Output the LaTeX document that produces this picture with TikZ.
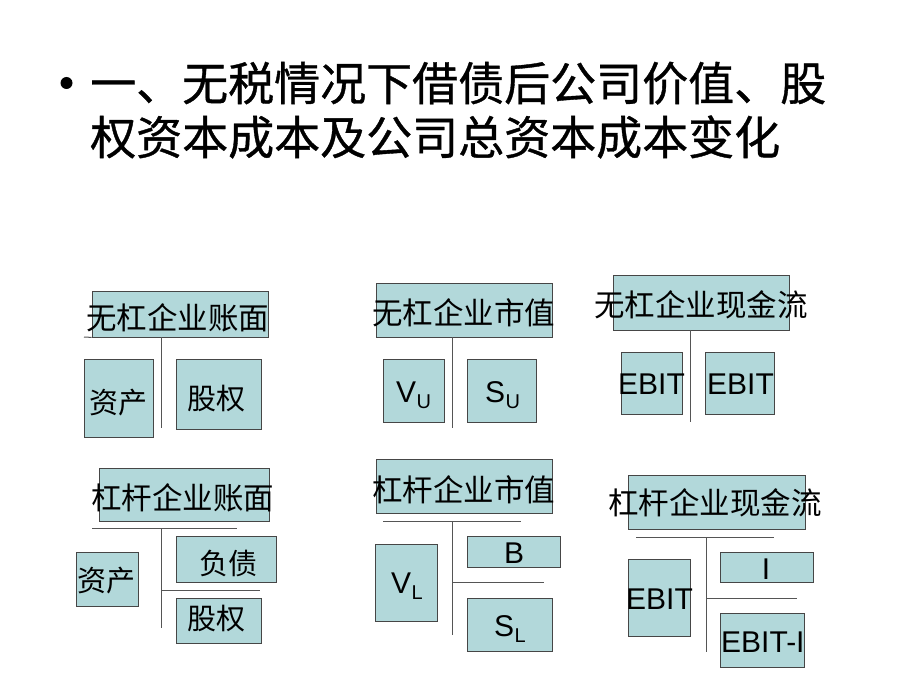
\documentclass[tikz,border=0pt]{standalone}
\usepackage{fontspec}
\setmainfont{Liberation Sans}
\newfontfamily\cjk{Noto Sans CJK SC}
\newfontfamily\cjkt[FakeBold=0.8]{Noto Sans CJK SC}
\definecolor{boxfill}{RGB}{178,216,218}
\definecolor{boxline}{RGB}{70,70,70}
\definecolor{connc}{RGB}{85,85,85}
\newcommand\bx[5]{\node[box, minimum width={#4pt-#2pt}, minimum height={#5pt-#3pt}] (#1) at ({(#2+#4)/2},{(#3+#5)/2}) {};}
\newcommand\vsub[2]{#1\kern0.5pt\raisebox{-6pt}{\fontsize{20}{20}\selectfont #2}}
\tikzset{
  box/.style={draw=boxline, fill=boxfill, line width=0.8pt, inner sep=0pt, rectangle},
  conn/.style={draw=connc, line width=1pt},
  hdr/.style={font=\cjk\fontsize{30.5}{31}\selectfont, inner sep=0pt, anchor=base},
  cj/.style={font=\cjk\fontsize{29}{30}\selectfont, inner sep=0pt, anchor=base},
  lat/.style={font=\fontsize{30}{31}\selectfont, inner sep=0pt, anchor=base west},
  ttl/.style={font=\cjkt\fontsize{46}{50}\selectfont, inner sep=0pt, anchor=base west},
}
\begin{document}
\begin{tikzpicture}[x=1pt,y=-1pt]
\path[fill=white] (0,0) rectangle (920,690);
% title
\fill (66.5,83) circle (6);
\node[ttl] (t1) at (90,100.5) {一、无税情况下借债后公司价值、股};
\node[ttl] (t2) at (90,154.5) {权资本成本及公司总资本成本变化};

% ---------- group 1 ----------
\bx{h1}{92}{291}{268}{337}
\coordinate (g1l) at (84,337);
\coordinate (g1v) at (161,337);
\coordinate (g1e) at (161,428);
\draw[conn] (g1l) -- (h1.south west);
\draw[conn] (g1v) -- (g1e);
\bx{a1}{84}{359}{153}{437}
\bx{e1}{176}{359}{261}{429}
\node[hdr] (h1t) at (177.5,329.6) {无杠企业账面};
\node[cj] (a1t) at (118.5,413) {资产};
\node[cj] (e1t) at (216.5,409) {股权};

% ---------- group 2 ----------
\bx{h2}{376}{283}{552}{337}
\coordinate (g2v) at (452,337);
\coordinate (g2e) at (452,428);
\draw[conn] (g2v) -- (g2e);
\bx{vu}{383}{359}{444}{422}
\bx{su}{467}{359}{536}{422}
\node[hdr] (h2t) at (463.5,324.6) {无杠企业市值};
\node[lat] (vut) at (396,402) {\vsub{V}{U}};
\node[lat] (sut) at (485,402) {\vsub{S}{U}};

% ---------- group 3 ----------
\bx{h3}{613}{275}{789}{330}
\coordinate (g3v) at (690,330);
\coordinate (g3e) at (690,422);
\draw[conn] (g3v) -- (g3e);
\bx{b31}{621}{352}{682}{414}
\bx{b32}{705}{352}{774}{414}
\node[hdr] (h3t) at (701,316.6) {无杠企业现金流};
\node[lat] (b31t) at (618,394) {EBIT};
\node[lat] (b32t) at (707,394) {EBIT};

% ---------- group 4 ----------
\bx{h4}{99}{468}{269}{521}
\coordinate (g4l) at (92,528);
\coordinate (g4r) at (237,528);
\coordinate (g4v) at (161,528);
\coordinate (g4e) at (161,628);
\coordinate (g4m) at (161,590);
\coordinate (g4mr) at (260,590);
\draw[conn] (g4l) -- (g4r);
\draw[conn] (g4v) -- (g4e);
\draw[conn] (g4m) -- (g4mr);
\bx{a4}{76}{552}{138}{606}
\bx{d4}{176}{536}{276}{582}
\bx{e4}{176}{598}{261}{643}
\node[hdr] (h4t) at (182.5,509.6) {杠杆企业账面};
\node[cj] (a4t) at (106.5,591) {资产};
\node[cj] (d4t) at (228,574) {负债};
\node[cj] (e4t) at (216.5,629) {股权};

% ---------- group 5 ----------
\bx{h5}{376}{459}{552}{513}
\coordinate (g5l) at (383,521);
\coordinate (g5r) at (521,521);
\coordinate (g5v) at (452,521);
\coordinate (g5e) at (452,635);
\coordinate (g5m) at (452,582);
\coordinate (g5mr) at (544,582);
\draw[conn] (g5l) -- (g5r);
\draw[conn] (g5v) -- (g5e);
\draw[conn] (g5m) -- (g5mr);
\bx{vl}{375}{544}{437}{621}
\bx{bb}{467}{536}{560}{567}
\bx{sl}{467}{598}{552}{651}
\node[hdr] (h5t) at (463.5,501.6) {杠杆企业市值};
\node[lat] (vlt) at (391,593) {\vsub{V}{L}};
\node[lat, anchor=base] (bbt) at (514,563) {B};
\node[lat] (slt) at (494,636) {\vsub{S}{L}};

% ---------- group 6 ----------
\bx{h6}{628}{475}{805}{529}
\coordinate (g6l) at (636,537);
\coordinate (g6r) at (774,537);
\coordinate (g6v) at (706,537);
\coordinate (g6e) at (706,652);
\coordinate (g6m) at (706,598);
\coordinate (g6mr) at (797,598);
\draw[conn] (g6l) -- (g6r);
\draw[conn] (g6v) -- (g6e);
\draw[conn] (g6m) -- (g6mr);
\bx{eb6}{628}{559}{690}{636}
\bx{i6}{720}{552}{813}{582}
\bx{ei6}{720}{613}{804}{667}
\node[hdr] (h6t) at (715,514.6) {杠杆企业现金流};
\node[lat] (eb6t) at (626,609) {EBIT};
\node[lat, anchor=base] (i6t) at (766,579) {I};
\node[lat] (ei6t) at (721,652) {EBIT-I};
\end{tikzpicture}
\end{document}
